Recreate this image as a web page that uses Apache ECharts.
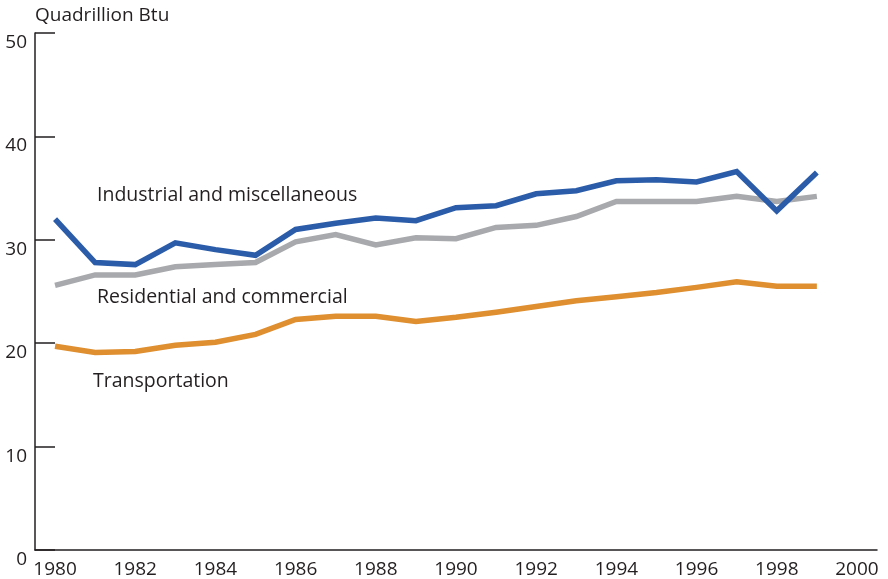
<!DOCTYPE html>
<html>
<head>
<meta charset="utf-8">
<script src="https://cdn.jsdelivr.net/npm/echarts@6/dist/echarts.min.js"></script>
<style>
  html, body { margin: 0; padding: 0; background: #fff; }
  #chart { width: 888px; height: 579px; }
</style>
</head>
<body>
<div id="chart"></div>
<script>
// Data
var years = ["1980", "1981", "1982", "1983", "1984", "1985", "1986", "1987", "1988", "1989",
  "1990", "1991", "1992", "1993", "1994", "1995", "1996", "1997", "1998", "1999", "2000"];
var industrial = [32.0, 27.8, 27.6, 29.7, 29.05, 28.5, 31.0, 31.6, 32.1, 31.85,
  33.1, 33.3, 34.45, 34.75, 35.7, 35.8, 35.6, 36.6, 32.8, 36.5];
var residential = [25.6, 26.6, 26.6, 27.4, 27.6, 27.8, 29.8, 30.5, 29.5, 30.2,
  30.1, 31.2, 31.4, 32.25, 33.7, 33.7, 33.7, 34.2, 33.7, 34.2];
var transportation = [19.7, 19.1, 19.2, 19.8, 20.1, 20.85, 22.3, 22.6, 22.6, 22.1,
  22.5, 23.0, 23.55, 24.1, 24.5, 24.9, 25.4, 25.95, 25.5, 25.5];

var font = "'Open Sans', 'Noto Sans', sans-serif";
var textColor = "#231f20";

var chart = echarts.init(document.getElementById("chart"), null, { renderer: "canvas" });

function lineSeries(name, data, color) {
  return {
    name: name,
    type: "line",
    data: data,
    symbol: "none",
    smooth: false,
    lineStyle: { color: color, width: 5.5, join: "miter" },
    itemStyle: { color: color },
    z: 3,
  };
}

var option = {
  backgroundColor: "#fff",
  animation: false,
  textStyle: { fontFamily: font },
  grid: { left: 35, right: 11, top: 33, bottom: 28, containLabel: false },
  xAxis: {
    type: "category",
    data: years,
    boundaryGap: true,
    axisLine: { lineStyle: { color: textColor, width: 1.5 } },
    axisTick: {
      inside: true,
      length: 12,
      interval: 0,
      alignWithLabel: true,
      lineStyle: { color: textColor, width: 1.5 },
    },
    axisLabel: {
      interval: 1,
      margin: 10,
      fontSize: 19,
      color: textColor,
      fontFamily: font,
    },
    splitLine: { show: false },
  },
  yAxis: {
    type: "value",
    min: 0,
    max: 50,
    interval: 10,
    axisLine: { show: true, lineStyle: { color: textColor, width: 1.5 } },
    axisTick: {
      show: true,
      inside: true,
      length: 20,
      lineStyle: { color: textColor, width: 1.5 },
    },
    axisLabel: {
      margin: 8,
      fontSize: 19,
      color: textColor,
      fontFamily: font,
      verticalAlign: "top",
    },
    splitLine: { show: false },
  },
  graphic: [
    {
      type: "text", left: 35, top: 6,
      style: { text: "Quadrillion Btu", font: "19px " + font, fill: textColor },
    },
    {
      type: "text", left: 97, top: 185,
      style: { text: "Industrial and miscellaneous", font: "19.5px " + font, fill: textColor },
    },
    {
      type: "text", left: 97, top: 287,
      style: { text: "Residential and commercial", font: "19.5px " + font, fill: textColor },
    },
    {
      type: "text", left: 93, top: 371,
      style: { text: "Transportation", font: "19.5px " + font, fill: textColor },
    },
  ],
  series: [
    lineSeries("Residential and commercial", residential, "#a7a9ac"),
    lineSeries("Transportation", transportation, "#df8f2f"),
    lineSeries("Industrial and miscellaneous", industrial, "#2a5ca9"),
  ],
};

chart.setOption(option);
</script>
</body>
</html>
